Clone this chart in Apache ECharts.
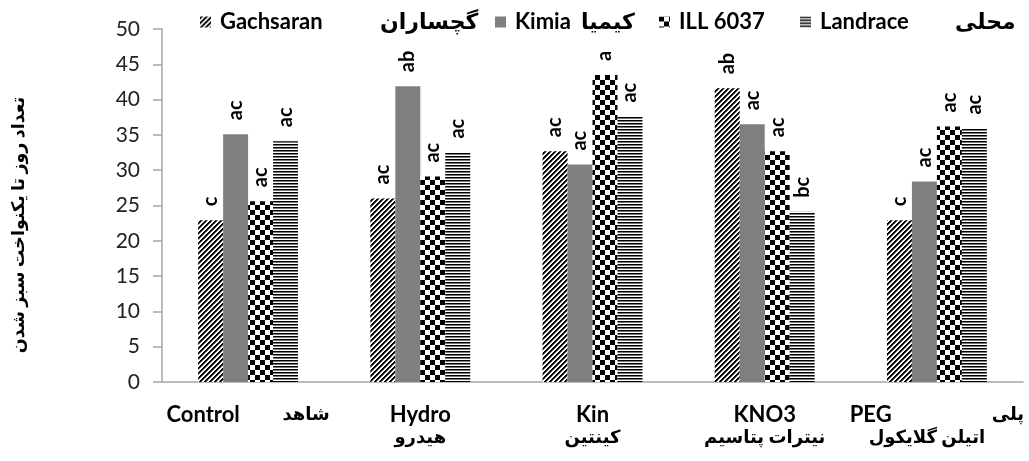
<!DOCTYPE html>
<html>
<head>
<meta charset="utf-8">
<script src="https://cdn.jsdelivr.net/npm/echarts@6/dist/echarts.min.js"></script>
<style>
  html, body { margin: 0; padding: 0; background: #ffffff; }
  #chart { width: 1029px; height: 461px; }
</style>
</head>
<body>
<div id="chart"></div>
<script>
// Treatments (x categories) and the four cultivars (series)
const categories = ['Control', 'Hydro', 'Kin', 'KNO3', 'PEG'];
const categoryLabelsFa = ['شاهد', 'هیدرو', 'کینتین', 'نیترات پتاسیم', 'پلی\nاتیلن گلایکول'];

const seriesNames = ['Gachsaran', 'Kimia', 'ILL 6037', 'Landrace'];
const seriesNamesFa = ['گچساران', 'کیمیا', '', 'محلی'];

// Days to uniform emergence
const gachsaran = [22.9, 26.0, 32.7, 41.6, 22.9];
const kimia     = [35.1, 41.9, 30.8, 36.5, 28.4];
const ill6037   = [25.6, 29.1, 43.5, 32.7, 36.2];
const landrace  = [34.1, 32.5, 37.6, 24.1, 35.9];

// Mean-separation letters
const gachsaranLetters = ['c', 'ac', 'ac', 'ab', 'c'];
const kimiaLetters     = ['ac', 'ab', 'ac', 'ac', 'ac'];
const illLetters       = ['ac', 'ac', 'a', 'ac', 'ac'];
const landraceLetters  = ['ac', 'ac', 'ac', 'bc', 'ac'];

const yTicks = { min: 0, max: 50, interval: 5 };
const yAxisTitle = 'تعداد روز تا یکنواخت سبز شدن';

// ---- fill patterns ----
function makeTile(w, h, painter) {
  const c = document.createElement('canvas');
  c.width = w; c.height = h;
  const ctx = c.getContext('2d');
  ctx.fillStyle = '#ffffff';
  ctx.fillRect(0, 0, w, h);
  painter(ctx);
  return c;
}
const diagonalTile = makeTile(5, 5, ctx => {
  for (let x = 0; x < 5; x++) for (let y = 0; y < 5; y++) {
    const k = (x + y) % 5;
    if (k === 0 || k === 1) { ctx.fillStyle = '#000'; ctx.fillRect(x, y, 1, 1); }
    else if (k === 2) { ctx.fillStyle = '#666'; ctx.fillRect(x, y, 1, 1); }
  }
});
const checkerTile = makeTile(10, 10, ctx => {
  ctx.fillStyle = '#000';
  ctx.fillRect(0, 0, 5, 5);
  ctx.fillRect(5, 5, 5, 5);
});
const hlineTile = makeTile(4, 3, ctx => {
  ctx.fillStyle = '#000';
  ctx.fillRect(0, 0, 4, 1);
  ctx.fillStyle = '#777';
  ctx.fillRect(0, 1, 4, 1);
});
const fills = [
  { image: diagonalTile, repeat: 'repeat' },
  '#7f7f7f',
  { image: checkerTile, repeat: 'repeat' },
  { image: hlineTile, repeat: 'repeat' }
];

const values = [gachsaran, kimia, ill6037, landrace];
const letters = [gachsaranLetters, kimiaLetters, illLetters, landraceLetters];

const FONT = 'Lato, "DejaVu Sans", sans-serif';
const BIG = 22;
const FA_X = 18;

function txt(extra) {
  return Object.assign({ fontFamily: FONT, fontWeight: 'bold', fontSize: BIG, color: '#000' }, extra || {});
}

// one legend block per cultivar, laid out along the top
const legendLeft = [195, 490, 654, 795];
const legendEnWidth = [160, 66, 0, 135];
const legends = seriesNames.map((name, i) => ({
  data: [name],
  left: legendLeft[i],
  top: 6,
  itemWidth: 11,
  itemHeight: 11,
  itemGap: 0,
  icon: 'rect',
  selectedMode: false,
  formatter: n => seriesNamesFa[i] ? '{en|' + n + '}{fa|' + seriesNamesFa[i] + '}' : '{en0|' + n + '}',
  textStyle: txt({
    padding: [0, 0, 0, 4],
    rich: {
      en: txt({ width: legendEnWidth[i] }),
      en0: txt(),
      fa: txt()
    }
  })
}));

// x category label: English name with Persian name beside or below it
const xEnWidth = { Control: 116, PEG: 142 };
function xLabel(value, idx) {
  const fa = categoryLabelsFa[idx];
  if (fa.indexOf('\n') >= 0) {
    const parts = fa.split('\n');
    return '{peg|' + value + '}{fa|' + parts[0] + '}\n{l2p|' + parts[1] + '}';
  }
  if (xEnWidth[value]) return '{en|' + value + '}{fa|' + fa + '}';
  return '{c|' + value + '}\n{l2|' + fa + '}';
}

const series = seriesNames.map((name, i) => ({
  name: name,
  type: 'bar',
  barGap: '0%',
  barCategoryGap: '42%',
  data: values[i].map((v, j) => ({ value: v, letter: letters[i][j] })),
  itemStyle: { color: fills[i] },
  label: {
    show: true,
    position: 'top',
    rotate: 90,
    align: 'left',
    verticalAlign: 'middle',
    distance: 14,
    formatter: p => p.data.letter,
    fontFamily: FONT,
    fontWeight: 'bold',
    fontSize: 20,
    color: '#000'
  },
  emphasis: { disabled: true }
}));

const chart = echarts.init(document.getElementById('chart'), null, { renderer: 'canvas' });
chart.setOption({
  animation: false,
  backgroundColor: '#ffffff',
  legend: legends,
  grid: { left: 162, right: 6, top: 29, bottom: 79, containLabel: false },
  xAxis: {
    type: 'category',
    data: categories,
    axisLine: { lineStyle: { color: '#a6a6a6', width: 1.5 } },
    axisTick: { show: false },
    axisLabel: {
      margin: 21,
      interval: 0,
      formatter: xLabel,
      rich: {
        en: txt({ width: xEnWidth.Control, align: 'left', lineHeight: 23 }),
        peg: txt({ width: xEnWidth.PEG, align: 'left', lineHeight: 23 }),
        fa: txt({ fontSize: FA_X, lineHeight: 23 }),
        c: txt({ lineHeight: 23 }),
        l2: txt({ fontSize: FA_X, lineHeight: 23 }),
        l2p: txt({ fontSize: FA_X, lineHeight: 23, padding: [0, 20, 0, 0] })
      }
    }
  },
  yAxis: {
    type: 'value',
    min: yTicks.min,
    max: yTicks.max,
    interval: yTicks.interval,
    axisLine: { show: true, lineStyle: { color: '#a6a6a6', width: 1.5 } },
    axisTick: { show: true, length: 9, lineStyle: { color: '#a6a6a6', width: 1.5 } },
    splitLine: { show: false },
    axisLabel: { margin: 22, fontFamily: FONT, fontSize: 21, color: '#222' }
  },
  graphic: [{
    type: 'text',
    x: 18,
    y: 225,
    rotation: Math.PI / 2,
    style: {
      text: yAxisTitle,
      fontFamily: FONT,
      fontWeight: 'bold',
      fontSize: 17.5,
      fill: '#000',
      align: 'center',
      verticalAlign: 'middle'
    }
  }],
  series: series
});
</script>
</body>
</html>
